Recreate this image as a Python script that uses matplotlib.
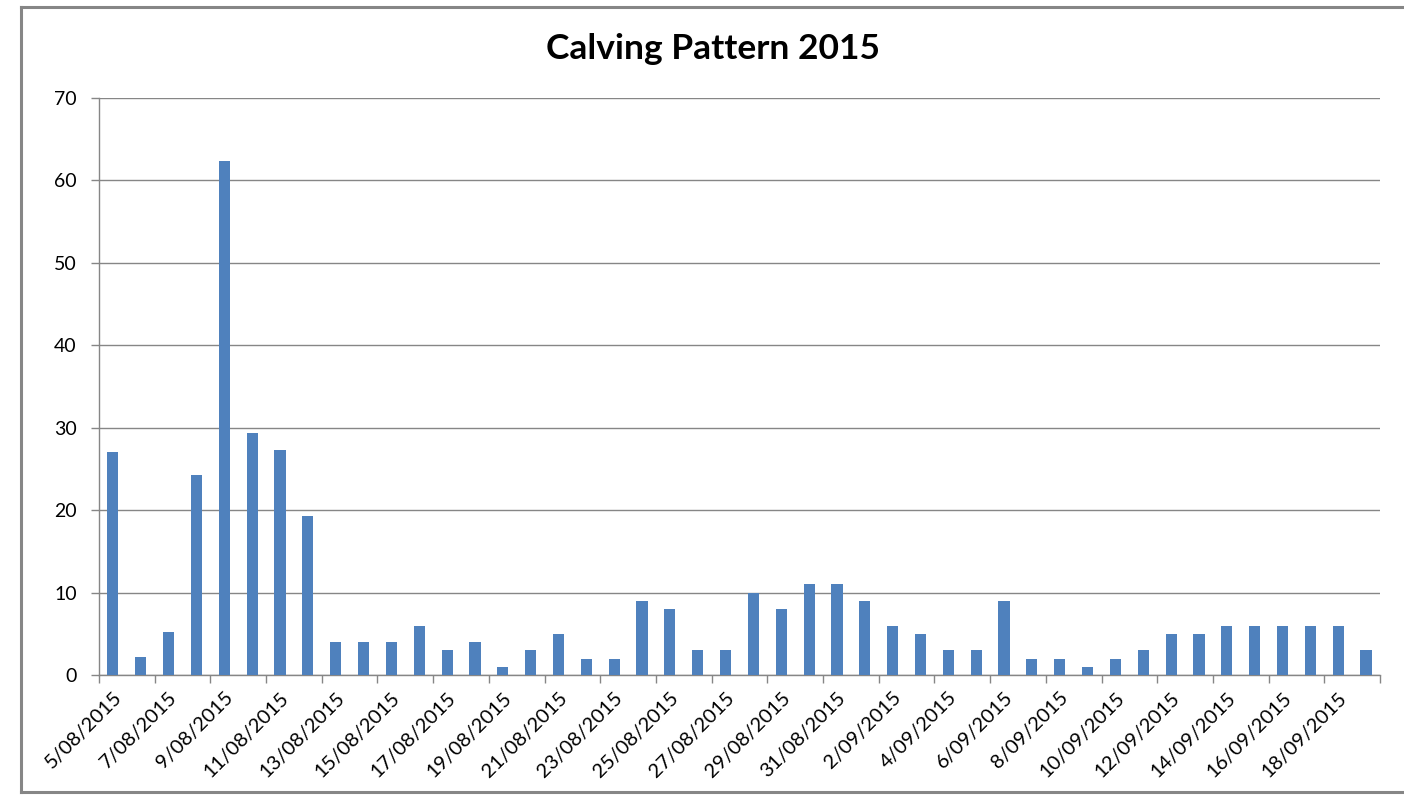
import matplotlib.pyplot as plt
import matplotlib.lines as mlines
import numpy as np

# calving counts per day, 5 Aug to 19 Sep 2015
dates = ["5/08/2015", "6/08/2015", "7/08/2015", "8/08/2015", "9/08/2015", "10/08/2015",
         "11/08/2015", "12/08/2015", "13/08/2015", "14/08/2015", "15/08/2015", "16/08/2015",
         "17/08/2015", "18/08/2015", "19/08/2015", "20/08/2015", "21/08/2015", "22/08/2015",
         "23/08/2015", "24/08/2015", "25/08/2015", "26/08/2015", "27/08/2015", "28/08/2015",
         "29/08/2015", "30/08/2015", "31/08/2015", "1/09/2015", "2/09/2015", "3/09/2015",
         "4/09/2015", "5/09/2015", "6/09/2015", "7/09/2015", "8/09/2015", "9/09/2015",
         "10/09/2015", "11/09/2015", "12/09/2015", "13/09/2015", "14/09/2015", "15/09/2015",
         "16/09/2015", "17/09/2015", "18/09/2015", "19/09/2015"]
calvings = [27, 2.2, 5.2, 24.3, 62.3, 29.3, 27.3, 19.3, 4, 4, 4, 6, 3, 4, 1, 3, 5, 2, 2,
            9, 8, 3, 3, 10, 8, 11, 11, 9, 6, 5, 3, 3, 9, 2, 2, 1, 2, 3, 5, 5, 6, 6, 6, 6, 6, 3]

plt.rcParams['font.family'] = ['Lato', 'DejaVu Sans']

fig = plt.figure(figsize=(14.04, 7.96), dpi=100)
ax = fig.add_axes([0.0705, 0.152, 0.9124, 0.725])

x = np.arange(len(dates))
ax.bar(x, calvings, 0.4, color='#4F81BD', zorder=3)

ax.set_xlim(-0.5, len(dates) - 0.5)
ax.set_ylim(0, 70)
ax.set_yticks(range(0, 71, 10))
ax.yaxis.grid(True, color='#868686', linewidth=1, zorder=0)

# labels every second day on the bars, ticks on the category edges
ax.set_xticks(x[::2])
ax.set_xticklabels(dates[::2], rotation=45, ha='right', rotation_mode='anchor', fontsize=14.5)
ax.set_xticks(np.arange(-0.5, len(dates), 2), minor=True)
ax.tick_params(axis='x', which='major', length=0, pad=10)
ax.tick_params(axis='x', which='minor', length=6, color='#868686', width=1)
ax.tick_params(axis='y', length=6, color='#868686', width=1, labelsize=14, pad=10)

for side in ['top', 'right']:
    ax.spines[side].set_visible(False)
for side in ['left', 'bottom']:
    ax.spines[side].set_color('#868686')
    ax.spines[side].set_linewidth(1)

fig.text(0.508, 0.938, "Calving Pattern 2015", ha='center', va='center',
         fontsize=25.5, fontweight='bold')

# chart frame, right side runs off the picture
x0, y0, y1 = 21 / 1404, 4 / 796, 789 / 796
for xs, ys in [([x0, 1.0], [y1, y1]), ([x0, 1.0], [y0, y0]), ([x0, x0], [y0, y1])]:
    fig.add_artist(mlines.Line2D(xs, ys, transform=fig.transFigure,
                                 color='#868686', linewidth=2.2))

plt.savefig('out.png', dpi=100)
